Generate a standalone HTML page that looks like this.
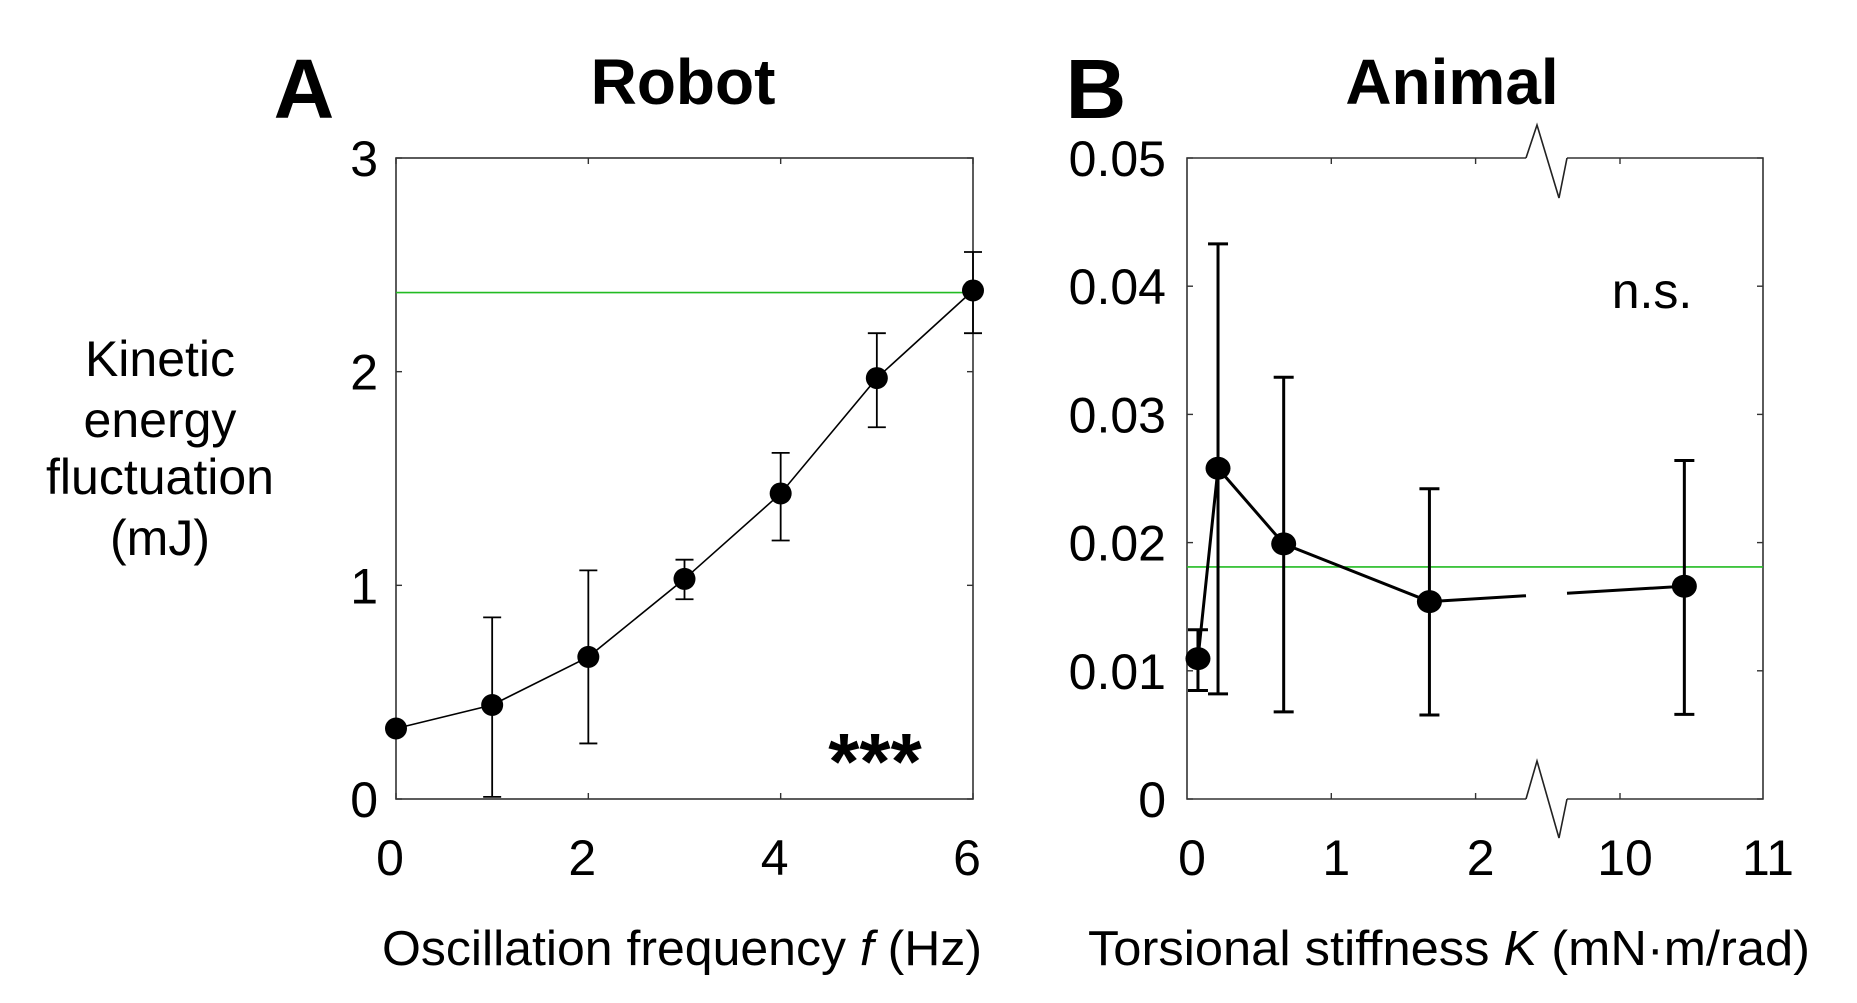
<!DOCTYPE html>
<html><head><meta charset="utf-8">
<style>
html,body{margin:0;padding:0;background:#fff;}
svg{display:block;font-family:"Liberation Sans",Arial,sans-serif;}
</style></head>
<body>
<svg id="fig" width="1857" height="1003" viewBox="0 0 1857 1003">
<rect width="1857" height="1003" fill="#fff"/>
<text x="304" y="118" font-size="84" font-weight="bold" text-anchor="middle">A</text>
<text x="683" y="104" font-size="64" font-weight="bold" text-anchor="middle">Robot</text>
<text x="1096" y="118" font-size="84" font-weight="bold" text-anchor="middle">B</text>
<text x="1452" y="104" font-size="64" font-weight="bold" text-anchor="middle">Animal</text>
<g font-size="50" text-anchor="middle">
<text x="160" y="376">Kinetic</text>
<text x="160" y="437">energy</text>
<text x="160" y="494">fluctuation</text>
<text x="160" y="555">(mJ)</text>
</g>
<text x="682" y="965" font-size="49" text-anchor="middle" textLength="600" lengthAdjust="spacingAndGlyphs">Oscillation frequency <tspan font-style="italic">f</tspan> (Hz)</text>
<text x="1449" y="965" font-size="49" text-anchor="middle" textLength="722" lengthAdjust="spacingAndGlyphs">Torsional stiffness <tspan font-style="italic">K</tspan> (mN·m/rad)</text>
<text x="875" y="789" font-size="80" font-weight="bold" text-anchor="middle">***</text>
<text x="1652" y="308" font-size="50" text-anchor="middle">n.s.</text>
<g id="gA"></g>
<g id="gB"></g>
</svg>
<script>
// Panel A data
const freqA = [0, 1, 2, 3, 4, 5, 6];
const keA = [0.33, 0.44, 0.665, 1.03, 1.43, 1.97, 2.38];
const keAHi = [0.33, 0.85, 1.07, 1.12, 1.62, 2.18, 2.56];
const keALo = [0.33, 0.01, 0.26, 0.935, 1.21, 1.74, 2.18];
const refA = 2.37;
const xTicksA = [0, 2, 4, 6];
const yTicksA = [0, 1, 2, 3];
// Panel B data
const stiffB = [0.076, 0.215, 0.67, 1.68, 10.45];
const keB = [0.01095, 0.0258, 0.0199, 0.0154, 0.0166];
const keBHi = [0.0132, 0.0433, 0.0329, 0.0242, 0.0264];
const keBLo = [0.00846, 0.0082, 0.0068, 0.00655, 0.0066];
const refB = 0.0181;
const xTicksB = [0, 1, 2, 10, 11];
const yTicksB = [0, 0.01, 0.02, 0.03, 0.04, 0.05];

const NS = "http://www.w3.org/2000/svg";
function mk(parent, tag, attrs) {
  const e = document.createElementNS(NS, tag);
  for (const k in attrs) e.setAttribute(k, attrs[k]);
  parent.appendChild(e);
  return e;
}
// ---- Panel A ----
const A = {l:396, r:973, t:158, b:799};
const xA = v => A.l + (v - 0) / 6 * (A.r - A.l);
const yA = v => A.b - v / 3 * (A.b - A.t);
const gA = document.getElementById('gA');
let fr = mk(gA, 'rect', {x:A.l, y:A.t, width:A.r-A.l, height:A.b-A.t, fill:'none', stroke:'#333', 'stroke-width':1.6});


xTicksA.forEach(v => {
  mk(gA, 'line', {x1:xA(v), x2:xA(v), y1:A.b, y2:A.b-6, stroke:'#333', 'stroke-width':1.4});
  mk(gA, 'line', {x1:xA(v), x2:xA(v), y1:A.t, y2:A.t+6, stroke:'#333', 'stroke-width':1.4});
  const t = mk(gA, 'text', {x:xA(v)-6, y:875, 'font-size':50, 'text-anchor':'middle'});
  t.textContent = v;
  
  
});
yTicksA.forEach(v => {
  mk(gA, 'line', {x1:A.l, x2:A.l+6, y1:yA(v), y2:yA(v), stroke:'#333', 'stroke-width':1.4});
  mk(gA, 'line', {x1:A.r, x2:A.r-6, y1:yA(v), y2:yA(v), stroke:'#333', 'stroke-width':1.4});
  const t = mk(gA, 'text', {x:378, y:yA(v)+18, 'font-size':50, 'text-anchor':'end'});
  t.textContent = v;
  
  
});
let rl = mk(gA, 'line', {x1:A.l, x2:A.r, y1:yA(refA), y2:yA(refA), stroke:'#22bb22', 'stroke-width':1.6});


let pl = mk(gA, 'polyline', {points:freqA.map((f,i)=>xA(f)+','+yA(keA[i])).join(' '), fill:'none', stroke:'#000', 'stroke-width':1.6});


freqA.forEach((f,i) => {
  const x = xA(f);
  if (keAHi[i] !== keALo[i]) {
    const eb = mk(gA, 'path', {d:`M${x},${yA(keAHi[i])}V${yA(keALo[i])}M${x-9},${yA(keAHi[i])}H${x+9}M${x-9},${yA(keALo[i])}H${x+9}`, stroke:'#000', 'stroke-width':1.8, fill:'none'});
    
    
  }
  const c = mk(gA, 'circle', {cx:x, cy:yA(keA[i]), r:11, fill:'#000'});
  
  
});
// ---- Panel B ----
const B = {l:1187, r:1763, t:158, b:799, bk1:1526, bk2:1567};
const xB = v => v <= 5 ? B.l + v * 144.3 : 1620 + (v - 10) * 143;
const yB = v => B.b - v / 0.05 * (B.b - B.t);
const gB = document.getElementById('gB');
let fb = mk(gB, 'path', {d:`M${B.bk1},${B.t}H${B.l}V${B.b}H${B.bk1}M${B.bk2},${B.b}H${B.r}V${B.t}H${B.bk2}`, fill:'none', stroke:'#333', 'stroke-width':1.6});


let br = mk(gB, 'path', {d:`M${B.bk1},${B.t}L1537,125L1559,198L${B.bk2},${B.t}M${B.bk1},${B.b}L1537,761L1559,838L${B.bk2},${B.b}`, fill:'none', stroke:'#222', 'stroke-width':1.6});


xTicksB.forEach(v => {
  const x = xB(v);
  if (v !== 0 && v !== 11) {
    mk(gB, 'line', {x1:x, x2:x, y1:B.b, y2:B.b-6, stroke:'#333', 'stroke-width':1.4});
    mk(gB, 'line', {x1:x, x2:x, y1:B.t, y2:B.t+6, stroke:'#333', 'stroke-width':1.4});
  }
  const t = mk(gB, 'text', {x:x+5, y:875, 'font-size':50, 'text-anchor':'middle'});
  t.textContent = v;
  
  
});
yTicksB.forEach(v => {
  mk(gB, 'line', {x1:B.l, x2:B.l+6, y1:yB(v), y2:yB(v), stroke:'#333', 'stroke-width':1.4});
  mk(gB, 'line', {x1:B.r, x2:B.r-6, y1:yB(v), y2:yB(v), stroke:'#333', 'stroke-width':1.4});
  const t = mk(gB, 'text', {x:1166, y:yB(v)+18, 'font-size':50, 'text-anchor':'end'});
  t.textContent = v === 0 ? '0' : v.toFixed(2);
  
  
});
let rb = mk(gB, 'line', {x1:B.l, x2:B.r, y1:yB(refB), y2:yB(refB), stroke:'#22bb22', 'stroke-width':1.6});


const ptsB = stiffB.map((k,i)=>[xB(k), yB(keB[i])]);
let d = 'M' + ptsB[0].join(',');
for (let i = 1; i < ptsB.length; i++) {
  const [x0,y0] = ptsB[i-1], [x1,y1] = ptsB[i];
  if (x0 < B.bk1 && x1 > B.bk2) {
    const ya = y0 + (y1-y0)*(B.bk1-x0)/(x1-x0);
    const yb = y0 + (y1-y0)*(B.bk2-x0)/(x1-x0);
    d += `L${B.bk1},${ya}M${B.bk2},${yb}L${x1},${y1}`;
  } else d += `L${x1},${y1}`;
}
let lb = mk(gB, 'path', {d:d, fill:'none', stroke:'#000', 'stroke-width':3});


stiffB.forEach((k,i) => {
  const x = xB(k);
  const eb = mk(gB, 'path', {d:`M${x},${yB(keBHi[i])}V${yB(keBLo[i])}M${x-10},${yB(keBHi[i])}H${x+10}M${x-10},${yB(keBLo[i])}H${x+10}`, stroke:'#000', 'stroke-width':3, fill:'none'});
  
  
  const c = mk(gB, 'ellipse', {cx:x, cy:yB(keB[i]), rx:12.5, ry:11.5, fill:'#000'});
  
  
});
</script>
</body></html>
